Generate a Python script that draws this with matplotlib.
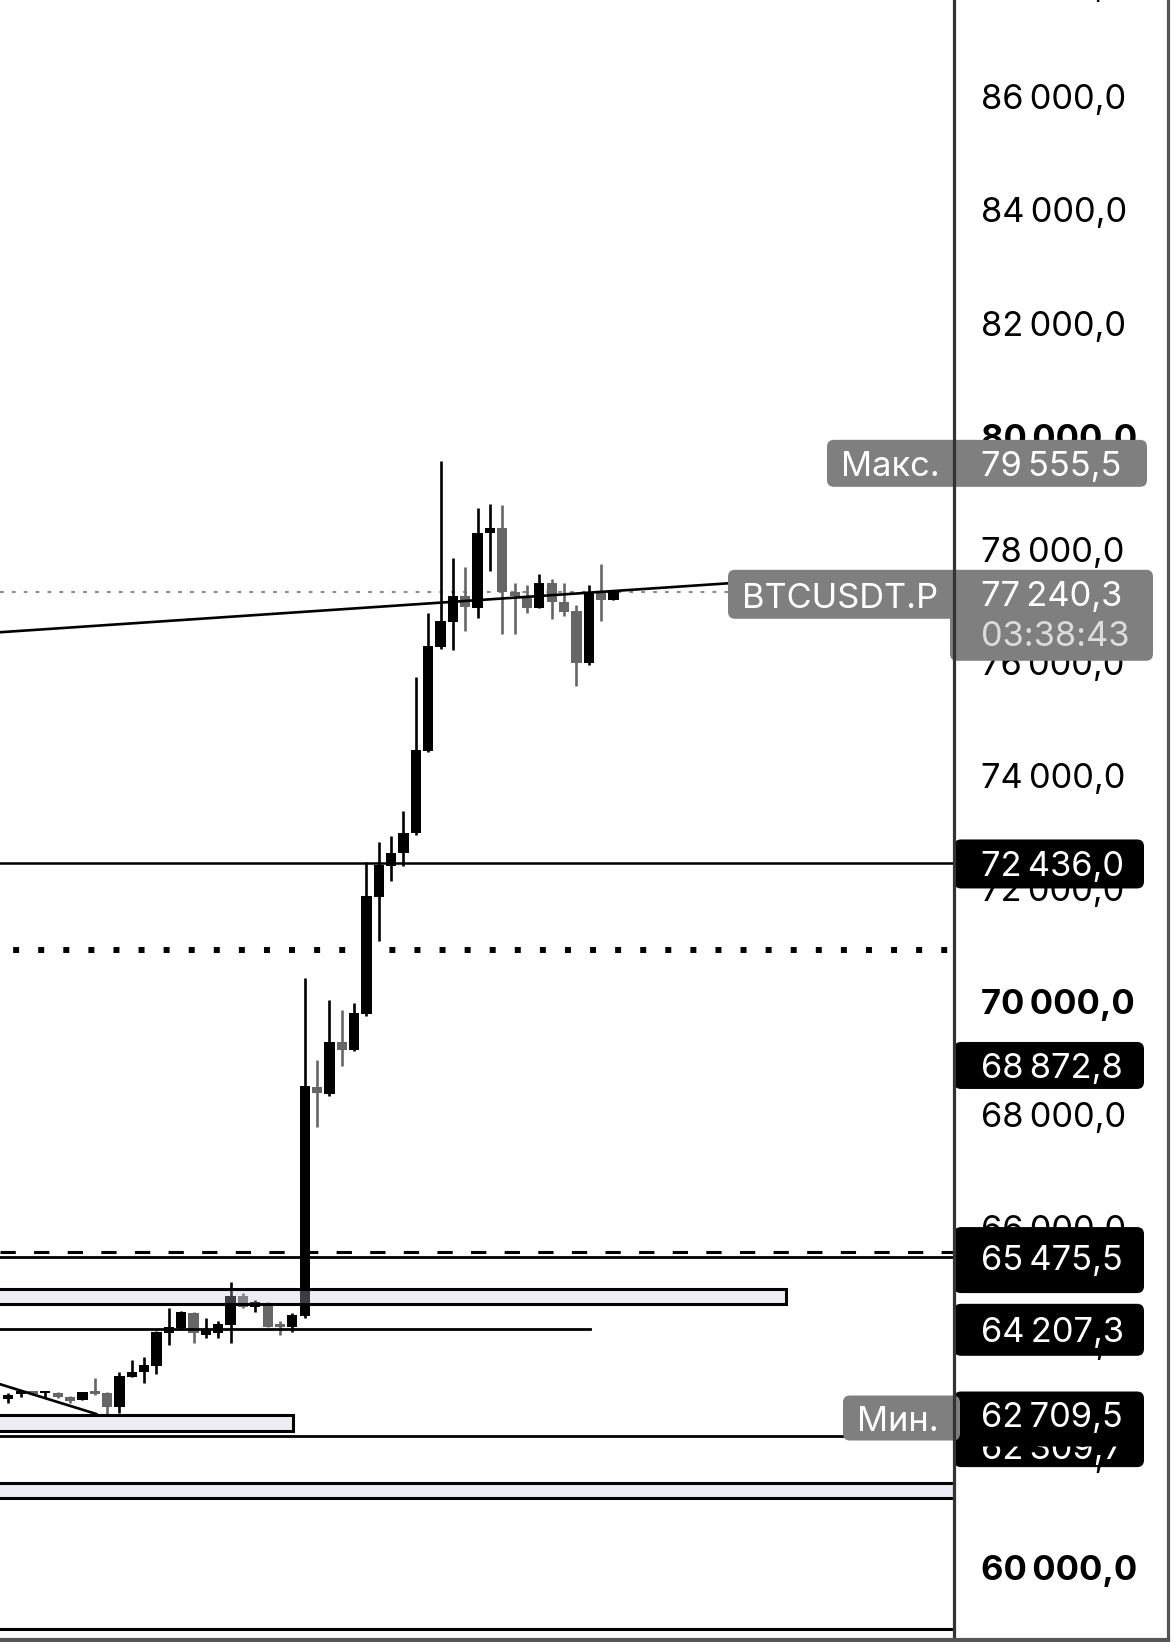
import matplotlib
matplotlib.use("Agg")
import matplotlib.pyplot as plt
from matplotlib.patches import FancyBboxPatch, Rectangle

plt.rcParams['font.family'] = ['Inter', 'DejaVu Sans']

# Свечи BTCUSDT.P (слева направо)
opens = [62966, 63049, 63095, 63066, 63077, 63007, 62949, 63107, 63067, 62830,
         63360, 63448, 63549, 64138, 64227, 64481, 64097, 64138, 64274, 64793,
         64588, 64616, 64292, 64233, 64434, 68488, 68359, 69284, 69137, 69769,
         71849, 72391, 72615, 72969, 74424, 76259, 76711, 77171, 76958, 78274,
         78363, 77241, 77125, 76958, 77390, 77054, 76900, 75975, 77241, 77095]
closes = [63037, 63077, 63054, 63095, 62996, 62936, 63084, 63054, 62830, 63372,
          63448, 63567, 64156, 64244, 64499, 64127, 64186, 64292, 64787, 64588,
          64686, 64244, 64233, 64451, 68500, 68371, 69284, 69137, 69797, 71861,
          72409, 72626, 72980, 74442, 76281, 76724, 77171, 76966, 78274, 78363,
          77241, 77171, 76958, 77390, 77054, 76888, 75975, 77241, 77095, 77240.3]
highs = [63077, 63125, 63112, 63095, 63085, 63024, 63090, 63332, 63095, 63448,
         63655, 63714, 64170, 64573, 64522, 64510, 64393, 64345, 65030, 64835,
         64716, 64676, 64350, 64492, 70405, 68961, 70022, 69845, 69974, 72467,
         72821, 72921, 73364, 75738, 76860, 79555.5, 77832, 77684, 78716, 78792,
         78775, 77390, 77360, 77549, 77461, 77390, 77006, 77360, 77731, 77250]
lows = [62900, 63001, 63036, 62979, 62990, 62900, 62940, 63036, 62709.5, 62720,
        63350, 63244, 63408, 63921, 64204, 63950, 64039, 64039, 63962, 64580,
        64511, 64233, 64097, 64156, 64400, 67781, 68324, 68854, 69125, 69739,
        71070, 72131, 72391, 72939, 74400, 76228, 76211, 76552, 76782, 77613,
        76488, 76488, 76859, 76948, 76754, 76817, 75574, 75945, 76729, 77095]

# Уровни и рисунки
last_price = 77240.3
max_price = 79555.5
min_price = 62709.5
level_72436 = 72436.0
level_68872 = 68872.8
level_dotted = 70905
level_dashed = 65560
level_65475 = 65475.5
level_64207 = 64207.3
level_62309 = 62309.7
level_bottom = 58907
trend_top = ([-1.0, 58.3], [76520, 77390])
trend_low = ([-1.0, 7.13], [63250, 62701])
zones = [(64641, 64910, 63.0), (62407, 62683, 23.05), (61220, 61480, None)]
short_line_end = 47.07
ticks = list(range(60000, 90000, 2000))

W, H = 1173, 1642
AX_RIGHT = 954
YTOP, YBOT = 87704.6, 58669
DY = 4  # сдвиг текста вниз, px

fig = plt.figure(figsize=(W / 100, H / 100), dpi=100)
ax = fig.add_axes([0, 0, AX_RIGHT / W, 1])
ax.set_xlim(-0.672, 76.575)
ax.set_ylim(YBOT, YTOP)
ax.axis('off')

# свечи
for i in range(len(opens)):
    o, c, h, l = opens[i], closes[i], highs[i], lows[i]
    col = '#000000' if c >= o else '#666666'
    ax.vlines(i, l, h, color=col, lw=1.9, zorder=3)
    bot = min(o, c)
    hgt = max(abs(c - o), 50)
    ax.bar(i, hgt, bottom=bot, width=0.83, color=col, zorder=3, linewidth=0)

# горизонтальные линии
ax.axhline(last_price, color='#8a8a8a', lw=1.5, ls=(0, (1.8, 3.9)), zorder=2)
ax.axhline(level_72436, color='black', lw=1.8, zorder=4)
ax.axhline(level_dotted, color='black', lw=4.3, ls=(2.0, (1, 3.2)), dash_capstyle='butt', zorder=4)
ax.axhline(level_dashed, color='black', lw=2.2, ls=(0, (5, 6)), zorder=4)
ax.axhline(level_65475, color='black', lw=2.0, zorder=4)
ax.axhline(level_62309, color='black', lw=2.0, zorder=4)
ax.axhline(level_bottom, color='black', lw=2.2, zorder=4)
ax.plot([-1, short_line_end], [level_64207, level_64207], color='black', lw=2.0, zorder=4)
ax.plot(trend_top[0], trend_top[1], color='black', lw=1.9, zorder=4)
ax.plot(trend_low[0], trend_low[1], color='black', lw=1.9, zorder=4)

for lo, hi, end in zones:
    x1 = 76.575 if end is None else end
    ax.add_patch(Rectangle((-1, lo), x1 + 1, hi - lo, facecolor=(0.76, 0.76, 0.87, 0.31),
                           edgecolor='black', lw=2.2, zorder=5))

# слой для шкалы цен (в пикселях)
ov = fig.add_axes([0, 0, 1, 1], zorder=5)
ov.set_xlim(0, W)
ov.set_ylim(H, 0)
ov.axis('off')
ov.patch.set_visible(False)


def y_px(p):
    return (YTOP - p) / (YTOP - YBOT) * H


def fmt(v, dec=1):
    s = f"{v:,.{dec}f}"
    return s.replace(',', '\u2009').replace('.', ',')


FS = 24.8
for t in ticks:
    ov.text(981, y_px(t) + DY, fmt(t), fontsize=FS, ha='left', va='center',
            fontweight='bold' if t % 10000 == 0 else 'normal', color='black', zorder=1)


def box(x0, x1, y0, y1, color, z=3):
    ov.add_patch(FancyBboxPatch((x0, y0), x1 - x0, y1 - y0,
                                boxstyle="round,pad=0,rounding_size=7",
                                facecolor=color, edgecolor='none', zorder=z))


# метки
yc = y_px(max_price)
box(827, 1147, yc - 21, yc + 26, '#7f7f7f')
ov.text(890, yc + 2 + DY, 'Макс.', fontsize=FS, color='white', ha='center', va='center', zorder=6)
ov.text(981, yc + 2 + DY, fmt(max_price), fontsize=FS, color='white', ha='left', va='center', zorder=6)

yc = y_px(last_price)
box(728, 960, yc - 22, yc + 27, '#7f7f7f')
box(950, 1153, yc - 22, yc + 69, '#7f7f7f')
ov.text(840, yc + 3 + DY, 'BTCUSDT.P', fontsize=FS, color='white', ha='center', va='center', zorder=6)
ov.text(981, yc + 1 + DY, fmt(last_price), fontsize=FS, color='white', ha='left', va='center', zorder=6)
ov.text(981, yc + 41 + DY, '03:38:43', fontsize=FS, color='#dcdcdc', ha='left', va='center', zorder=6)

for p, up, down in [(level_72436, 24, 25), (level_68872, 23, 24), (level_64207, 25, 27),
                    (level_65475, 30, 36)]:
    yc = y_px(p)
    box(954, 1144, yc - up, yc + down, 'black')
    ov.text(981, yc + DY, fmt(p), fontsize=FS, color='white', ha='left', va='center', zorder=6)

# минимум и скрытая под ним метка
yc = y_px(level_62309) + 10
box(954, 1144, yc - 24, yc + 21, 'black', z=3)
ov.text(981, yc + DY, fmt(level_62309), fontsize=FS, color='white', ha='left', va='center', zorder=4)
yc = y_px(min_price)
box(954, 1144, yc - 22, yc + 33, 'black', z=5)
ov.text(981, yc + DY, fmt(min_price), fontsize=FS, color='white', ha='left', va='center', zorder=6)
box(843, 960, yc - 18, yc + 27, '#7f7f7f', z=5)
ov.text(898, yc + 4 + DY, 'Мин.', fontsize=FS, color='white', ha='center', va='center', zorder=6)

# рамки
ov.plot([AX_RIGHT, AX_RIGHT], [0, H], color='#333333', lw=2.3, zorder=8)
ov.plot([1168, 1168], [0, H], color='#555555', lw=2.3, zorder=8)
ov.plot([0, 1168], [1640, 1640], color='#555555', lw=3, zorder=8)

fig.savefig('out.png', dpi=100)
